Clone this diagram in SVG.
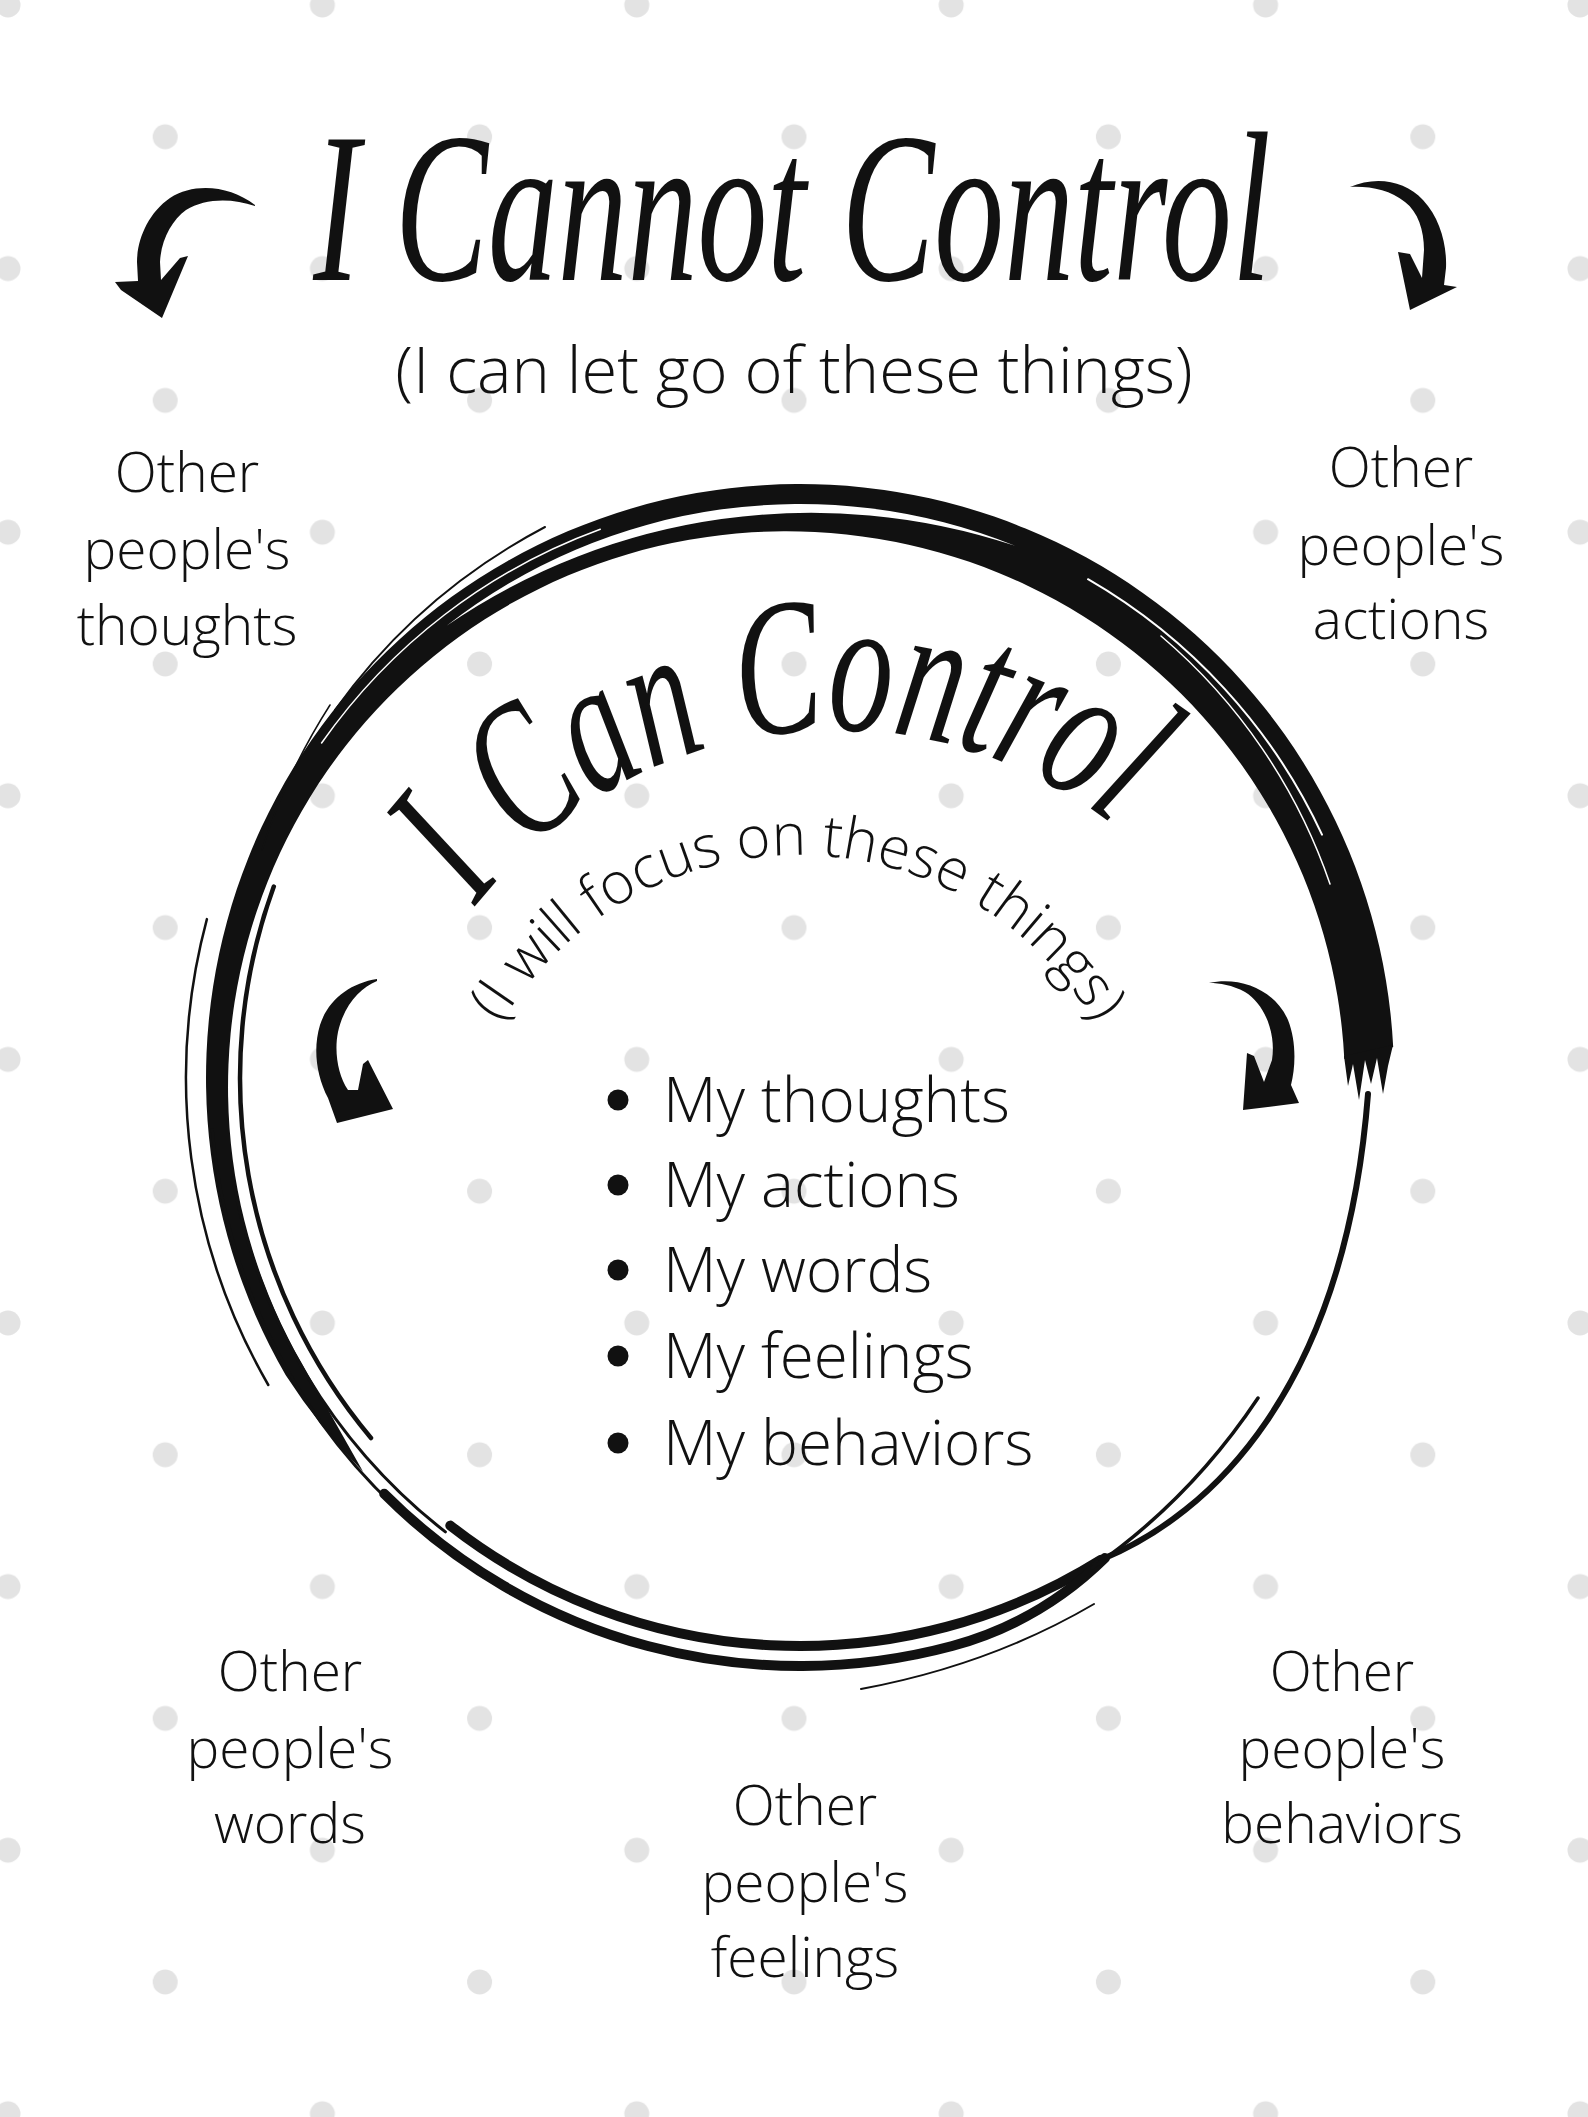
<svg xmlns="http://www.w3.org/2000/svg" width="1588" height="2117" viewBox="0 0 1588 2117">
  <defs>
    <pattern id="dots" patternUnits="userSpaceOnUse" x="8" y="5" width="314.4" height="263.6">
      <g fill="#e3e3e3">
        <circle cx="0" cy="0" r="12.5"/>
        <circle cx="314.4" cy="0" r="12.5"/>
        <circle cx="0" cy="263.6" r="12.5"/>
        <circle cx="314.4" cy="263.6" r="12.5"/>
        <circle cx="157.2" cy="131.8" r="12.5"/>
      </g>
    </pattern>
    <path id="arcTitle" d="M 380 1185 A 455 455 0 0 1 1290 1185"/>
    <path id="arcSub" d="M 452 1201 A 346 346 0 0 1 1144 1201"/>
    <style>
      .script { font-family: "Liberation Serif", "DejaVu Serif", serif; font-style: italic; fill: #111; }
      .sans { font-family: "Open Sans", "Liberation Sans", sans-serif; font-weight: 300; fill: #111; }
      .lbl { font-size: 55px; text-anchor: middle; }
      .item { font-size: 62px; }
      .ink { fill: #111; }
      .line { fill: none; stroke: #111; stroke-linecap: round; }
      .gap { fill: none; stroke: #fff; stroke-linecap: round; }
    </style>
  </defs>

  <rect width="1588" height="2117" fill="#ffffff"/>
  <rect width="1588" height="2117" fill="url(#dots)"/>

  <!-- Brush ring -->
  <g id="ring">
    <path class="ink" d="M 363 1471.4 A 590 590 0 0 1 285.6 1375 A 594 594 0 1 1 1393.2 1046.9 L 1344.3 1058.9 A 558.5 556 0 1 0 303.3 1366 Z"/>
    <path class="ink" d="M 1344 1056 L 1348 1086 L 1353 1064 L 1359 1100 L 1365 1060 L 1371 1084 L 1377 1058 L 1383 1094 L 1388 1066 L 1393 1045 Z"/>
    <path fill="#fff" d="M 446.6 625.7 A 574 574 0 0 1 1015 545.8 A 645 645 0 0 0 446.6 625.7 Z"/>
    <path class="gap" stroke-width="2" d="M 1088 579.2 A 576 576 0 0 1 1322 834.6"/>
    <path class="gap" stroke-width="1.5" d="M 1161 636 A 566 566 0 0 1 1330 884"/>
    <path class="gap" stroke-width="1.5" d="M 321.6 743 A 586 586 0 0 1 600.3 529.2"/>
    <path class="line" stroke-width="2.5" d="M 268.3 1385 A 614 614 0 0 1 206.9 919.1"/>
    <path class="line" stroke-width="3" d="M 420.8 1529.9 A 590 590 0 0 1 212.2 1129.4"/>
    <path class="line" stroke-width="3" d="M 445.4 1531.9 A 576 576 0 0 1 232.8 1178"/>
    <path class="line" stroke-width="4.5" d="M 371 1438 A 560 560 0 0 1 273.8 886.5"/>
    <path class="line" stroke-width="2" d="M 335 710 A 606 606 0 0 1 545 527"/>
    <path class="line" stroke-width="1.5" d="M 262 850 A 612 612 0 0 1 330 705"/>
    <path class="line" stroke-width="10" d="M 450.3 1525.6 A 568 568 0 0 0 1101 1559.7"/>
    <path class="line" stroke-width="10" d="M 384.2 1493.8 A 588 588 0 0 0 952.2 1646 Q 1040 1622 1105 1558"/>
    <path class="line" stroke-width="6" d="M 1101 1559.7 C 1210 1515 1345 1390 1368 1094"/>
    <path class="line" stroke-width="3.5" d="M 1092 1568 Q 1190 1500 1258 1398"/>
    <path class="line" stroke-width="2" d="M 861 1689 Q 990 1665 1094 1604"/>
  </g>

  <!-- Arrows -->
  <g id="arrow-top-left">
    <path class="ink" d="M 255 205 C 230 186 195 182 170 198 C 148 213 137 240 137 262 L 138 281 L 115 282 L 121 290 L 162 318 L 188 256 L 180 258 L 161 280 L 160 262 C 161 240 172 220 186 210 C 205 198 232 198 255 206 Z"/>
  </g>
  <g id="arrow-top-right">
    <path class="ink" d="M 1350 187 C 1375 176 1405 180 1423 200 C 1440 218 1447 245 1446 268 L 1444 285 L 1457 287 L 1410 310 L 1398 252 L 1410 254 L 1422 278 L 1424 250 C 1424 230 1418 212 1405 202 C 1390 190 1370 186 1350 187 Z"/>
  </g>
  <g id="arrow-inner-left">
    <path class="ink" d="M 377 979 C 350 983 328 1000 320 1025 C 313 1048 316 1075 328 1098 L 337 1123 L 393 1109 L 368 1060 L 363 1064 L 358 1090 L 348 1090 C 338 1075 334 1052 338 1032 C 344 1005 360 988 377 981 Z"/>
  </g>
  <g id="arrow-inner-right">
    <path class="ink" d="M 1209 983 C 1240 976 1275 990 1288 1020 C 1296 1040 1296 1065 1291 1085 L 1299 1103 L 1243 1110 L 1247 1053 L 1254 1056 L 1264 1082 L 1272 1060 C 1276 1035 1266 1005 1245 992 C 1232 985 1220 983 1209 983 Z"/>
  </g>

  <!-- Titles -->
  <g id="title-cannot">
    <text class="script" transform="translate(792 280) scale(0.65 1)" x="0" y="0" font-size="215" text-anchor="middle">I Cannot Control</text>
    <text class="sans" x="794" y="393" font-size="65" text-anchor="middle">(I can let go of these things)</text>
  </g>

  <g id="title-can">
    <text class="script" font-size="195"><textPath href="#arcTitle" startOffset="46%" text-anchor="middle" textLength="715" lengthAdjust="spacingAndGlyphs">I Can Control</textPath></text>
    <text class="sans" font-size="58"><textPath href="#arcSub" startOffset="50%" text-anchor="middle">(I will focus on these things)</textPath></text>
  </g>

  <!-- Inner list -->
  <g id="list">
    <g class="ink">
      <circle cx="618" cy="1100" r="10.5"/>
      <circle cx="618" cy="1185" r="10.5"/>
      <circle cx="618" cy="1270" r="10.5"/>
      <circle cx="618" cy="1356" r="10.5"/>
      <circle cx="618" cy="1443" r="10.5"/>
    </g>
    <text class="sans item" x="663" y="1122">My thoughts</text>
    <text class="sans item" x="663" y="1207">My actions</text>
    <text class="sans item" x="663" y="1292">My words</text>
    <text class="sans item" x="663" y="1378">My feelings</text>
    <text class="sans item" x="663" y="1465">My behaviors</text>
  </g>

  <!-- Outer labels -->
  <g id="label-thoughts" class="sans lbl">
    <text x="187" y="492">Other</text>
    <text x="187" y="569">people's</text>
    <text x="187" y="645">thoughts</text>
  </g>
  <g id="label-actions" class="sans lbl">
    <text x="1401" y="487">Other</text>
    <text x="1401" y="565">people's</text>
    <text x="1401" y="639">actions</text>
  </g>
  <g id="label-words" class="sans lbl">
    <text x="290" y="1691">Other</text>
    <text x="290" y="1768">people's</text>
    <text x="290" y="1843">words</text>
  </g>
  <g id="label-feelings" class="sans lbl">
    <text x="805" y="1825">Other</text>
    <text x="805" y="1902">people's</text>
    <text x="805" y="1977">feelings</text>
  </g>
  <g id="label-behaviors" class="sans lbl">
    <text x="1342" y="1691">Other</text>
    <text x="1342" y="1768">people's</text>
    <text x="1342" y="1843">behaviors</text>
  </g>
</svg>
